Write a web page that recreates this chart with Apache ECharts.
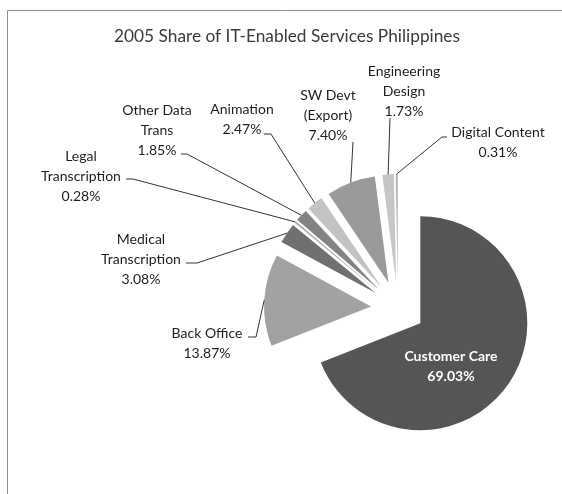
<!DOCTYPE html>
<html>
<head>
<meta charset="utf-8">
<script src="https://cdn.jsdelivr.net/npm/echarts@6/dist/echarts.min.js"></script>
<style>
  html, body { margin: 0; padding: 0; background: #fff; }
  #chart { width: 562px; height: 494px; }
</style>
</head>
<body>
<div id="chart"></div>
<script>
// Service categories, clockwise from 12 o'clock
const categories = [
  'Customer Care',
  'Back Office',
  'Medical\nTranscription',
  'Legal\nTranscription',
  'Other Data\nTrans',
  'Animation',
  'SW Devt\n(Export)',
  'Engineering\nDesign',
  'Digital Content'
];
// Share of IT-enabled services, percent
const shares = [69.03, 13.87, 3.08, 0.28, 1.85, 2.47, 7.40, 1.73, 0.31];

const titleText = '2005 Share of IT-Enabled Services Philippines';

// Grey shades per slice
const sliceColors = ['#555555', '#a2a2a2', '#707070', '#aaaaaa', '#838383', '#c3c3c3', '#9a9a9a', '#c6c6c6', '#b4b4b4'];

// Label centres (px)
const labelCenters = [[451, 366], [207, 343], [141, 259], [81, 176], [157, 130], [242, 119], [328, 115], [404, 91], [498, 142]];
// Leader line start at the label, and the short horizontal run before it turns
// toward the slice (0 = straight line)
const leaderStarts = [null, [248, 337], [186, 263], [126, 179], [181, 154], [264, 134], [353, 142], [390, 118], [447, 137]];
const leaderRuns = [0, 8, 11, 7, 6, 7, 0, 0, -5];

const FONT = 'Lato, "Noto Sans", sans-serif';
const PIE_CENTER = [398, 308];
const PIE_RADIUS = 107;
const EXPLODE = 27;

const chart = echarts.init(document.getElementById('chart'), null, { renderer: 'canvas' });

const pieData = categories.map((name, i) => ({
  name: name,
  value: shares[i],
  selected: true,
  itemStyle: { color: sliceColors[i] }
}));

chart.setOption({
  animation: false,
  backgroundColor: '#ffffff',
  series: [{
    type: 'pie',
    center: PIE_CENTER,
    radius: [0, PIE_RADIUS],
    startAngle: 90,
    clockwise: true,
    selectedMode: 'multiple',
    selectedOffset: EXPLODE,
    avoidLabelOverlap: false,
    silent: true,
    emphasis: { disabled: true },
    itemStyle: { borderWidth: 0 },
    label: { show: false },
    labelLine: { show: false },
    data: pieData
  }]
});

// Outer-arc midpoint of each exploded slice, from the pie's own layout
const seriesData = chart.getModel().getSeriesByIndex(0).getData();
function arcMidpoint(i) {
  const lay = seriesData.getItemLayout(i);
  const mid = (lay.startAngle + lay.endAngle) / 2;
  const dist = lay.r + EXPLODE;
  return [lay.cx + dist * Math.cos(mid), lay.cy + dist * Math.sin(mid)];
}

const graphics = [
  {
    type: 'rect',
    shape: { x: 7.5, y: 10.5, width: 700, height: 700 },
    style: { fill: 'none', stroke: '#8c8c8c', lineWidth: 1 },
    silent: true,
    z: 0
  },
  {
    type: 'text',
    x: 287,
    y: 36,
    style: {
      text: titleText,
      fill: '#3a3a3a',
      font: '17.3px ' + FONT,
      align: 'center',
      verticalAlign: 'middle'
    },
    silent: true
  }
];

categories.forEach((name, i) => {
  const inside = i === 0;
  graphics.push({
    type: 'text',
    x: labelCenters[i][0],
    y: labelCenters[i][1],
    z: 10,
    style: {
      text: name + '\n' + shares[i].toFixed(2) + '%',
      fill: inside ? '#ffffff' : '#1e1e1e',
      font: (inside ? 'bold ' : '') + '14px ' + FONT,
      lineHeight: 20,
      align: 'center',
      verticalAlign: 'middle'
    },
    silent: true
  });
  if (!inside) {
    const s = leaderStarts[i];
    const pts = [s];
    if (leaderRuns[i]) pts.push([s[0] + leaderRuns[i], s[1]]);
    pts.push(arcMidpoint(i));
    graphics.push({
      type: 'polyline',
      z: 10,
      shape: { points: pts },
      style: { stroke: '#333333', lineWidth: 1, fill: null },
      silent: true
    });
  }
});

chart.setOption({ graphic: graphics });
</script>
</body>
</html>
